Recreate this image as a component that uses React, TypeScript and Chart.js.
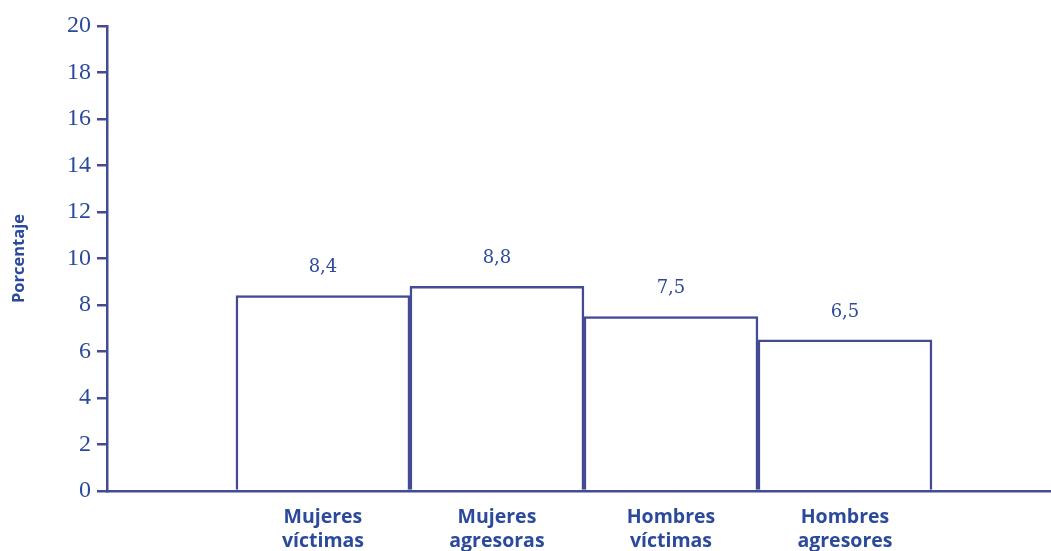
import React, { useEffect, useRef } from "react";
import { Chart, registerables } from "chart.js";

Chart.register(...registerables);

const categories: string[][] = [
  ["Mujeres", "víctimas"],
  ["Mujeres", "agresoras"],
  ["Hombres", "víctimas"],
  ["Hombres", "agresores"],
];
const positions: number[] = [1, 2, 3, 4];
const values: number[] = [8.4, 8.8, 7.5, 6.5];
const valueLabels: string[] = ["8,4", "8,8", "7,5", "6,5"];
const yTicks: number[] = [0, 2, 4, 6, 8, 10, 12, 14, 16, 18, 20];

const NAVY = "#454a94";
const BLUE = "#2b4a9c";

const valueLabelPlugin = {
  id: "valueLabels",
  afterDatasetsDraw(chart: any) {
    const meta = chart.getDatasetMeta(0);
    const ctx = chart.ctx;
    ctx.save();
    ctx.fillStyle = BLUE;
    ctx.font = "18px 'DejaVu Serif'";
    ctx.textAlign = "center";
    ctx.textBaseline = "middle";
    meta.data.forEach((bar: any, i: number) => {
      ctx.fillText(valueLabels[i], bar.x, bar.y - 28);
    });
    ctx.restore();
  },
};

export default function App() {
  const ref = useRef<HTMLCanvasElement | null>(null);
  useEffect(() => {
    if (!ref.current) return;
    const chart = new Chart(ref.current, {
      type: "bar",
      data: {
        datasets: [
          {
            data: positions.map((p, i) => ({ x: p, y: values[i] })),
            backgroundColor: "#ffffff",
            borderColor: NAVY,
            borderWidth: 2.5,
            barPercentage: 1,
            categoryPercentage: 1,
          },
        ],
      },
      options: {
        animation: false,
        responsive: false,
        maintainAspectRatio: false,
        layout: { padding: { top: 26, right: 0, left: 0, bottom: 0 } },
        plugins: { legend: { display: false }, tooltip: { enabled: false } },
        scales: {
          x: {
            type: "linear",
            min: -0.241,
            max: 5.184,
            offset: false,
            grid: { display: false, drawTicks: false },
            border: { color: NAVY, width: 2.5 },
            ticks: {
              stepSize: 1,
              includeBounds: false,
              autoSkip: false,
              maxRotation: 0,
              padding: 14,
              color: BLUE,
              font: { family: "'Open Sans'", weight: "bold", size: 19.5, lineHeight: 1.23 },
              callback: (v: any) => {
                const idx = positions.indexOf(Number(v));
                return idx >= 0 ? categories[idx] : "";
              },
            },
            afterFit: (s: any) => {
              s.height = 60;
            },
          },
          y: {
            min: 0,
            max: 20,
            afterBuildTicks: (s: any) => {
              s.ticks = yTicks.map((v) => ({ value: v }));
            },
            grid: {
              display: true,
              drawOnChartArea: false,
              drawTicks: true,
              tickLength: 10,
              color: NAVY,
              lineWidth: 2.5,
            },
            border: { color: NAVY, width: 2.5 },
            ticks: {
              color: BLUE,
              padding: 6,
              font: { family: "'Liberation Serif'", size: 24 },
            },
            title: {
              display: true,
              text: "Porcentaje",
              color: BLUE,
              font: { family: "'Open Sans'", weight: "bold", size: 16.5 },
              padding: { top: 9, bottom: 0 },
            },
            afterFit: (s: any) => {
              s.width = 107;
            },
          },
        },
      },
      plugins: [valueLabelPlugin],
    });
    return () => chart.destroy();
  }, []);
  return (
    <div style={{ position: "fixed", left: 0, top: 0, width: 1051, height: 551, background: "#fff" }}>
      <canvas ref={ref} width={1051} height={551} />
    </div>
  );
}
